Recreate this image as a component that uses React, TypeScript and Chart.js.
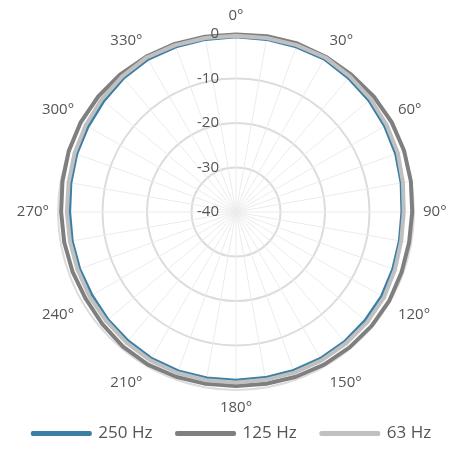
import React, { useEffect, useRef } from 'react';
import Chart from 'chart.js/auto';

const categories = [
  '0°', '10°', '20°', '30°', '40°', '50°', '60°', '70°', '80°',
  '90°', '100°', '110°', '120°', '130°', '140°', '150°', '160°', '170°',
  '180°', '190°', '200°', '210°', '220°', '230°', '240°', '250°', '260°',
  '270°', '280°', '290°', '300°', '310°', '320°', '330°', '340°', '350°',
];
const shownLabels = ['0°', '30°', '60°', '90°', '120°', '150°', '180°', '210°', '240°', '270°', '300°', '330°'];

const hz250 = [
  -0.5, -0.5, -0.4, -0.2, -0.6, -0.9, -1.3, -1.7, -2.2, -2.6, -2.6, -2.4,
  -2.1, -2.0, -1.9, -1.9, -2.0, -2.1, -2.1, -2.0, -1.9, -1.9, -2.1, -2.3,
  -2.5, -2.5, -2.5, -2.5, -2.2, -1.8, -1.5, -1.1, -0.6, -0.3, -0.4, -0.5,
];
const hz125 = [
  -0.1, 0.1, 0.3, 0.3, 0.3, 0.4, 0.4, 0.2, -0.1, -0.4, -0.5, -0.4,
  -0.2, -0.2, -0.3, -0.4, -0.6, -0.8, -0.9, -0.8, -0.6, -0.4, -0.5, -0.8,
  -1.0, -0.9, -0.8, -0.7, -0.4, 0, 0.3, 0.4, 0.4, 0.3, 0.2, 0,
];
const hz63 = [
  -0.4, -0.3, -0.1, 0.1, -0.2, -0.5, -0.9, -1.3, -1.9, -2.3, -2.3, -2.0,
  -1.6, -1.5, -1.5, -1.5, -1.6, -1.7, -1.7, -1.6, -1.5, -1.5, -1.7, -1.9,
  -2.0, -2.1, -2.1, -2.0, -1.8, -1.4, -1.0, -0.6, -0.2, 0.1, -0.1, -0.3,
];
const radialTicks = [-40, -30, -20, -10, 0];

const FONT = '"Open Sans", "Noto Sans", sans-serif';
const TEXT_COLOR = '#555555';
const TICK_SIZE = 15;
const TICK_SHIFT = 17;

const tickLabelPlugin = {
  id: 'rightAlignedRadialTicks',
  afterDatasetsDraw(chart: any) {
    const s = chart.scales.r;
    const ctx = chart.ctx;
    ctx.save();
    ctx.font = `${TICK_SIZE}px ${FONT}`;
    ctx.fillStyle = TEXT_COLOR;
    ctx.textAlign = 'right';
    ctx.textBaseline = 'middle';
    s.ticks.forEach((t: any) => {
      const d = s.getDistanceFromCenterForValue(t.value);
      ctx.fillText(String(t.value), s.xCenter - TICK_SHIFT, s.yCenter - d);
    });
    ctx.restore();
  },
};

export default function App() {
  const ref = useRef<HTMLCanvasElement | null>(null);

  useEffect(() => {
    if (!ref.current) return;
    const chart = new Chart(ref.current, {
      type: 'radar',
      plugins: [tickLabelPlugin],
      data: {
        labels: categories,
        datasets: [
          { label: '250 Hz', data: hz250, borderColor: '#3b7ea6', backgroundColor: '#3b7ea6', order: 3 },
          { label: '125 Hz', data: hz125, borderColor: '#7f7f7f', backgroundColor: '#7f7f7f', order: 2 },
          { label: '63 Hz', data: hz63, borderColor: '#c0c0c0', backgroundColor: '#c0c0c0', order: 1 },
        ].map((d) => ({
          ...d,
          fill: false,
          borderWidth: 4,
          pointRadius: 0,
          pointHoverRadius: 0,
          tension: 0,
          borderJoinStyle: 'round' as const,
        })),
      },
      options: {
        animation: false,
        responsive: true,
        maintainAspectRatio: false,
        layout: { padding: { top: 7, bottom: 3, left: 3, right: 0 } },
        plugins: {
          tooltip: { enabled: false },
          legend: {
            position: 'bottom',
            labels: {
              boxWidth: 57,
              boxHeight: 1,
              padding: 7,
              color: TEXT_COLOR,
              font: { family: FONT, size: 17 },
              generateLabels: (c: any) => {
                const items = (Chart as any).defaults.plugins.legend.labels.generateLabels(c);
                items.sort((a: any, b: any) => a.datasetIndex - b.datasetIndex);
                return items.map((it: any, i: number) => ({
                  ...it,
                  text: i < items.length - 1 ? it.text + '    ' : it.text,
                }));
              },
            },
          },
        },
        scales: {
          r: {
            min: radialTicks[0],
            max: radialTicks[radialTicks.length - 1],
            afterBuildTicks: (axis: any) => {
              axis.ticks = radialTicks.map((v) => ({ value: v }));
            },
            ticks: { display: false, stepSize: 10 },
            grid: { circular: true, color: '#dcdcdc', lineWidth: 2 },
            angleLines: { color: '#ebebeb', lineWidth: 1 },
            pointLabels: {
              color: TEXT_COLOR,
              padding: 9,
              font: { family: FONT, size: 15 },
              callback: (label: string) => (shownLabels.includes(label) ? label : ''),
            },
          },
        },
      },
    });
    return () => chart.destroy();
  }, []);

  return (
    <div style={{ position: 'fixed', left: 0, top: 0, width: 461, height: 455 }}>
      <canvas ref={ref} />
    </div>
  );
}
